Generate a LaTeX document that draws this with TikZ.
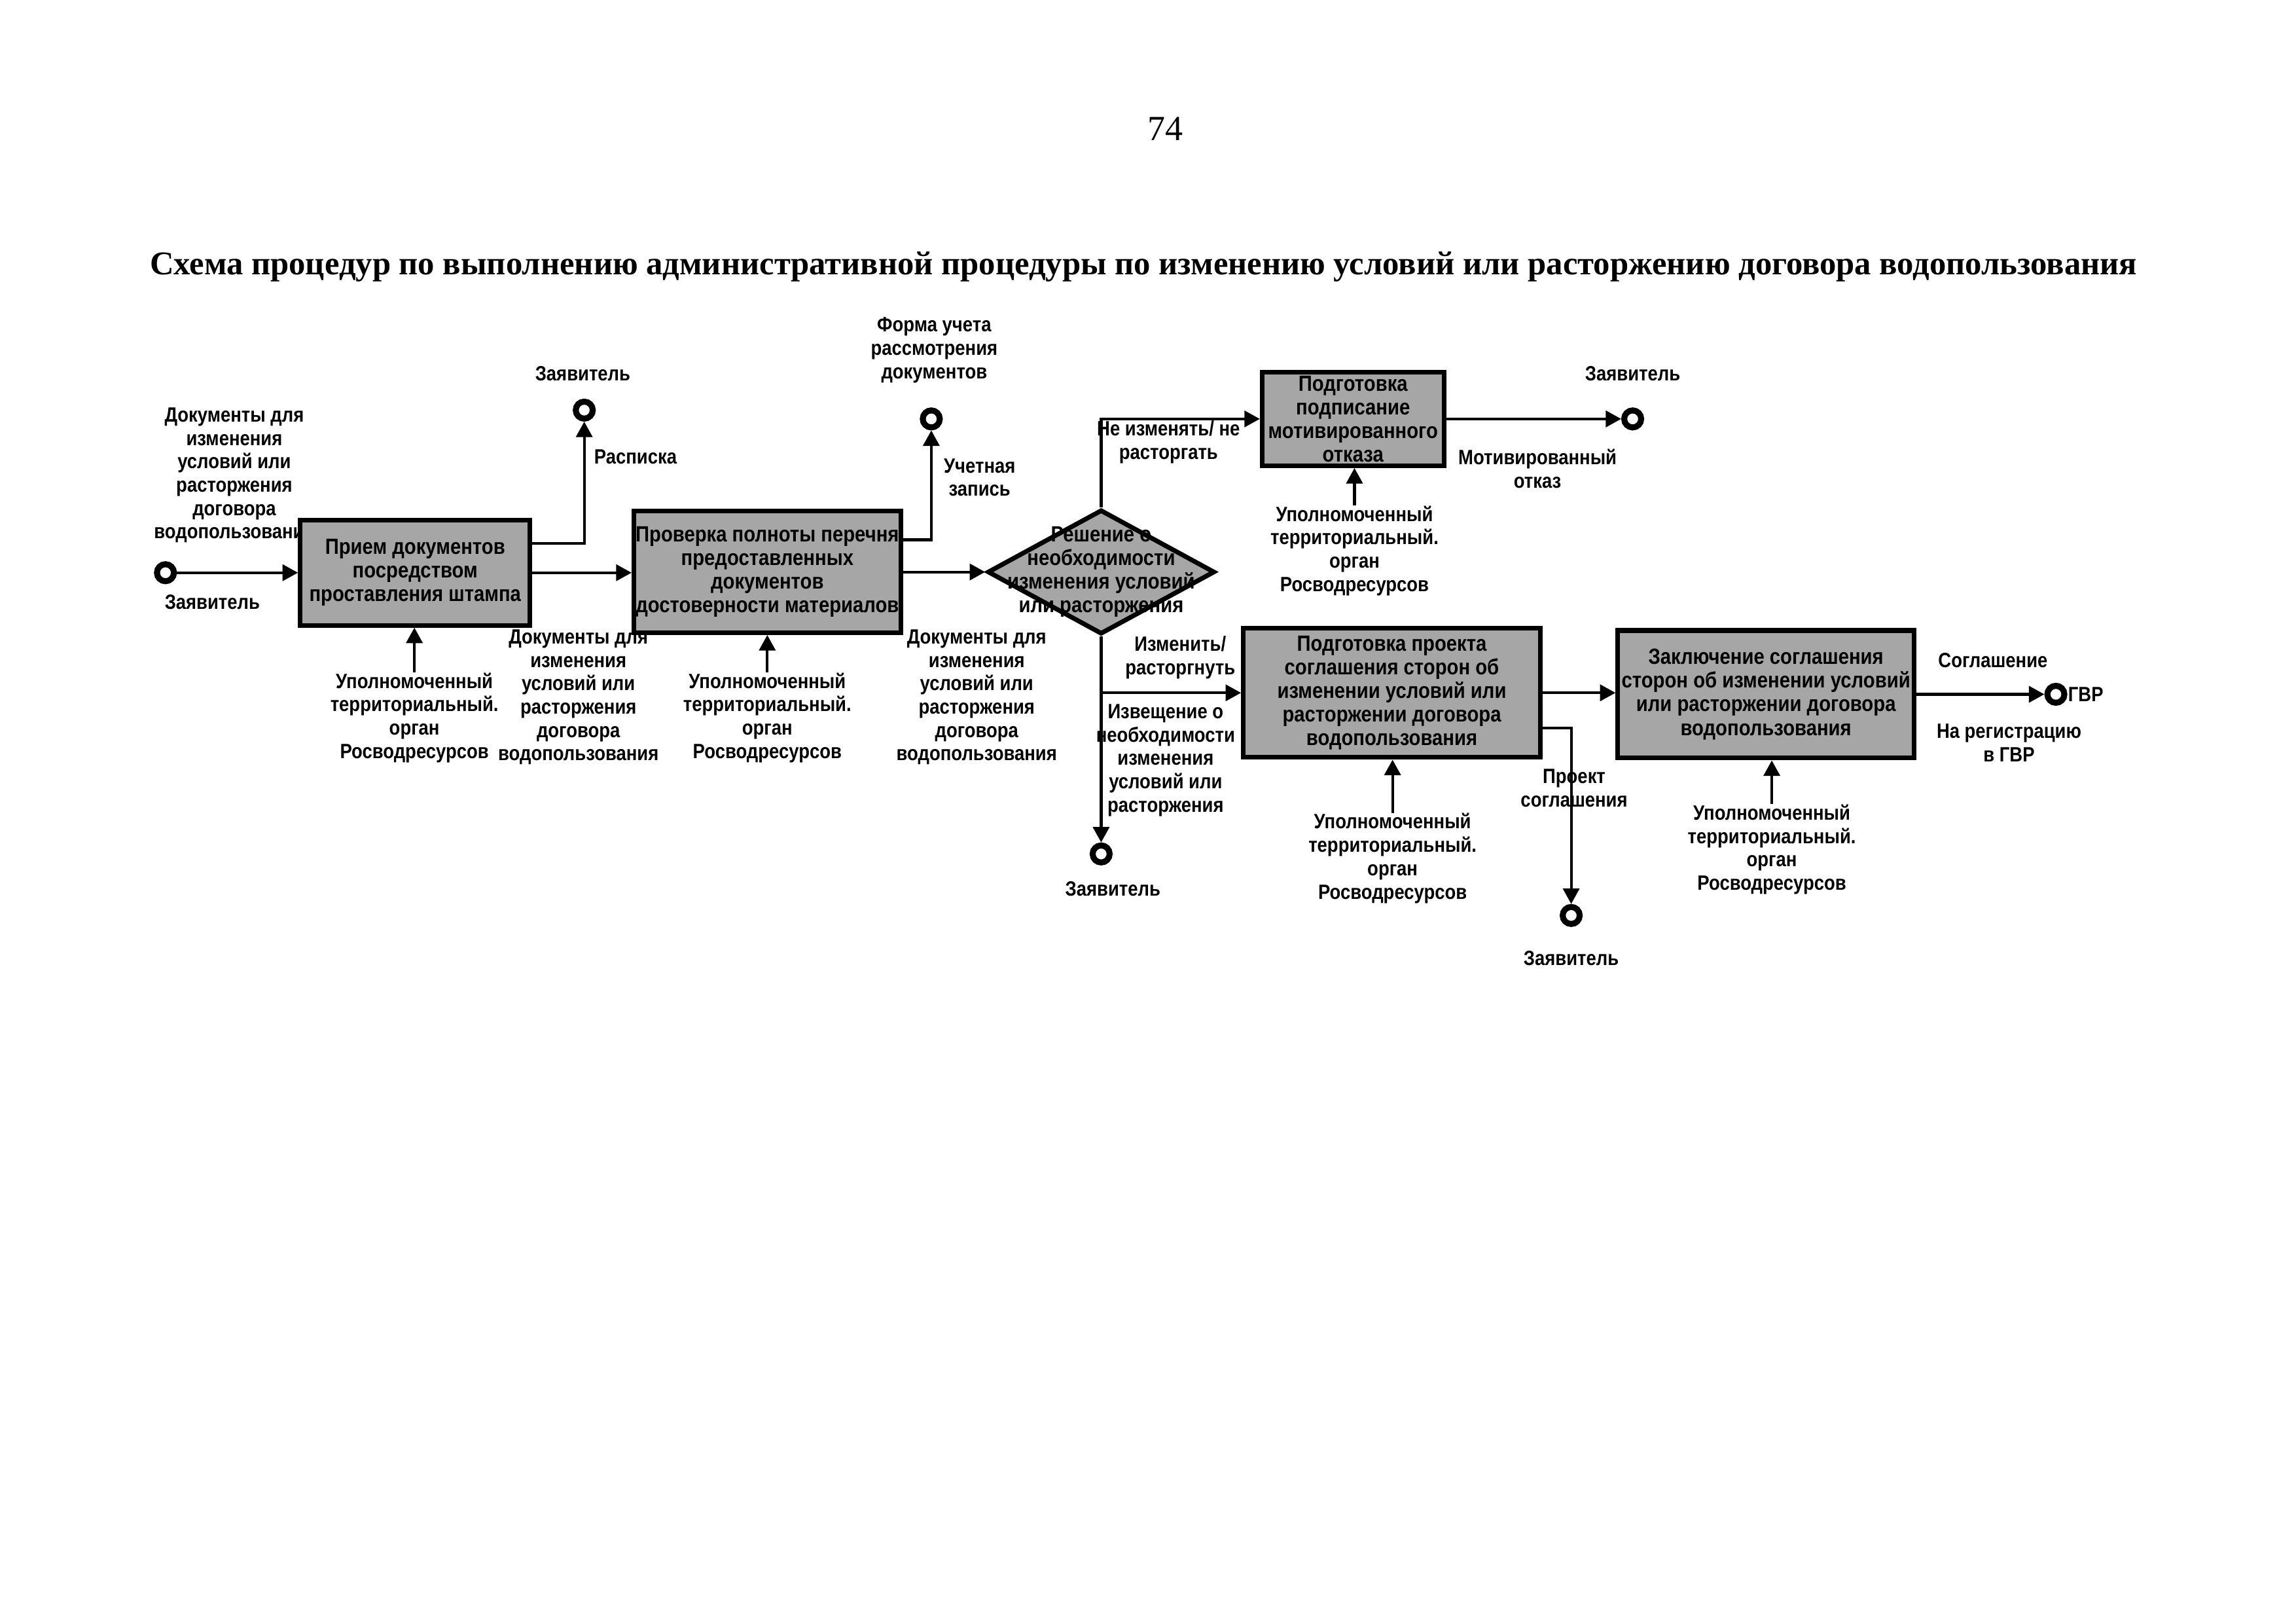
\documentclass[tikz,border=0pt]{standalone}
\usepackage{fontspec}
\setmainfont{Liberation Sans}[FakeStretch=0.87]
\newfontfamily\serifface{Liberation Serif}
\usetikzlibrary{arrows.meta, positioning, calc, shapes.geometric}
\newcommand\lblfont{\fontsize{7.6}{8.6}\selectfont\bfseries}
\newcommand\procfont{\fontsize{8.1}{8.7}\selectfont\bfseries}
\tikzset{
  flow/.style={-{Triangle[length=2mm,width=2.1mm]}, line width=1pt},
  proc/.style={draw, line width=1.7pt, fill=black!35, inner sep=0pt,
    font=\procfont, align=center},
  actor/.style={circle, draw, line width=2.2pt, fill=white,
    minimum size=2.2mm, inner sep=0pt},
  lbl/.style={font=\lblfont, align=center, inner sep=0pt}
}
\begin{document}
\begin{tikzpicture}[x=0.01894cm, y=-0.01894cm]
  \useasboundingbox[fill=white] (0,0) rectangle (1568,1108);

  % Page number and title
  \node[font=\serifface\fontsize{13}{15}\selectfont] (pnum) at (796,88) {74};
  \node[font=\serifface\fontsize{12.2}{14}\selectfont\bfseries] (title) at (781,182)
    {Схема процедур по выполнению административной процедуры по изменению условий или расторжению договора водопользования};

  % Input documents (drawn before the box that hides their end)
  \node[lbl] (docin) at (160,324.5)
    {Документы для\\изменения\\условий или\\расторжения\\договора\\водопользования};

  % Processes
  \node[proc, minimum width=2.97cm, minimum height=1.36cm] (b1) at (283.5,391)
    {Прием документов\\посредством\\проставления штампа};
  \node[proc, minimum width=3.45cm, minimum height=1.57cm] (b2) at (524,390.5)
    {Проверка полноты перечня\\предоставленных\\документов\\достоверности материалов};
  \node[diamond, draw, line width=1.7pt, fill=black!35, inner sep=0pt,
    minimum width=2.94cm, minimum height=1.61cm] (dec) at (752,390.5) {};
  \node[font=\procfont, align=center, inner sep=0pt] (dect) at (dec)
    {Решение о\\необходимости\\изменения условий\\или расторжения};
  \node[proc, minimum width=2.35cm, minimum height=1.21cm] (b3) at (924,286)
    {Подготовка\\подписание\\мотивированного\\отказа};
  \node[proc, minimum width=3.84cm, minimum height=1.67cm] (b4) at (950.5,473)
    {Подготовка проекта\\соглашения сторон об\\изменении условий или\\расторжении договора\\водопользования};
  \node[proc, minimum width=3.83cm, minimum height=1.65cm] (b5) at (1206,474)
    {Заключение соглашения\\сторон об изменении условий\\или расторжении договора\\водопользования};

  % Actors
  \node[actor] (z1) at (113,391) {};
  \node[actor] (z2) at (399,280) {};
  \node[actor] (f) at (636,286) {};
  \node[actor] (z3) at (1115,286) {};
  \node[actor] (z4) at (752,583) {};
  \node[actor] (z5) at (1073,625) {};
  \node[actor] (gvr) at (1404,474) {};

  % Actor labels
  \node[lbl] (z1l) at (145,411) {Заявитель};
  \node[lbl] (z2l) at (398,255) {Заявитель};
  \node[lbl] (fl) at (638,239) {Форма учета\\рассмотрения\\документов};
  \node[lbl] (z3l) at (1115,255) {Заявитель};
  \node[lbl] (z4l) at (760,607) {Заявитель};
  \node[lbl] (z5l) at (1073,654) {Заявитель};
  \node[lbl, anchor=west] (gvrl) at (1412,474) {ГВР};

  % Flow labels
  \node[lbl] (rasp) at (434,312) {Расписка};
  \node[lbl] (uch) at (669,326) {Учетная\\запись};
  \node[lbl] (doc2) at (395,476)
    {Документы для\\изменения\\условий или\\расторжения\\договора\\водопользования};
  \node[lbl] (doc3) at (667,476)
    {Документы для\\изменения\\условий или\\расторжения\\договора\\водопользования};
  \node[lbl] (no) at (798,302) {Не изменять/ не\\расторгать};
  \node[lbl] (mot) at (1050,320) {Мотивированный\\отказ};
  \node[lbl] (yes) at (806,449) {Изменить/\\расторгнуть};
  \node[lbl] (izv) at (796,519)
    {Извещение о\\необходимости\\изменения\\условий или\\расторжения};
  \node[lbl] (proj) at (1075,538) {Проект\\соглашения};
  \node[lbl] (sogl) at (1361,451) {Соглашение};
  \node[lbl] (reg) at (1372,507) {На регистрацию\\в ГВР};

  % Mechanisms
  \node[lbl] (u1) at (283,490) {Уполномоченный\\территориальный.\\орган\\Росводресурсов};
  \node[lbl] (u2) at (524,490) {Уполномоченный\\территориальный.\\орган\\Росводресурсов};
  \node[lbl] (u3) at (925,376) {Уполномоченный\\территориальный.\\орган\\Росводресурсов};
  \node[lbl] (u4) at (951,586) {Уполномоченный\\территориальный.\\орган\\Росводресурсов};
  \node[lbl] (u5) at (1210,580) {Уполномоченный\\территориальный.\\орган\\Росводресурсов};

  % Connectors
  \draw[flow] (z1) -- (b1.west);
  \draw[flow] (b1.east) -- (b1.east -| b2.west);
  \draw[flow] ($(b1.east)+(0,-20)$) -| (z2);
  \draw[flow] (b2.east) -- (b2.east -| dec.west);
  \draw[flow] ($(b2.east)+(0,-22)$) -| (f);
  \draw[flow] (dec.north) |- (b3.west);
  \draw[flow] (b3.east) -- (z3);
  \draw[flow] (dec.south) -- (z4);
  \draw[flow] (dec.south |- b4.west) -- (b4.west);
  \draw[flow] (b4.east) -- (b4.east -| b5.west);
  \draw[flow] ($(b4.east)+(0,24)$) -| (z5);
  \draw[flow] (b5.east) -- (gvr);

  \draw[flow] (u1.north) -- (u1.north |- b1.south);
  \draw[flow] (u2.north) -- (u2.north |- b2.south);
  \draw[flow] (u3.north) -- (u3.north |- b3.south);
  \draw[flow] (u4.north) -- (u4.north |- b4.south);
  \draw[flow] (u5.north) -- (u5.north |- b5.south);
\end{tikzpicture}
\end{document}
